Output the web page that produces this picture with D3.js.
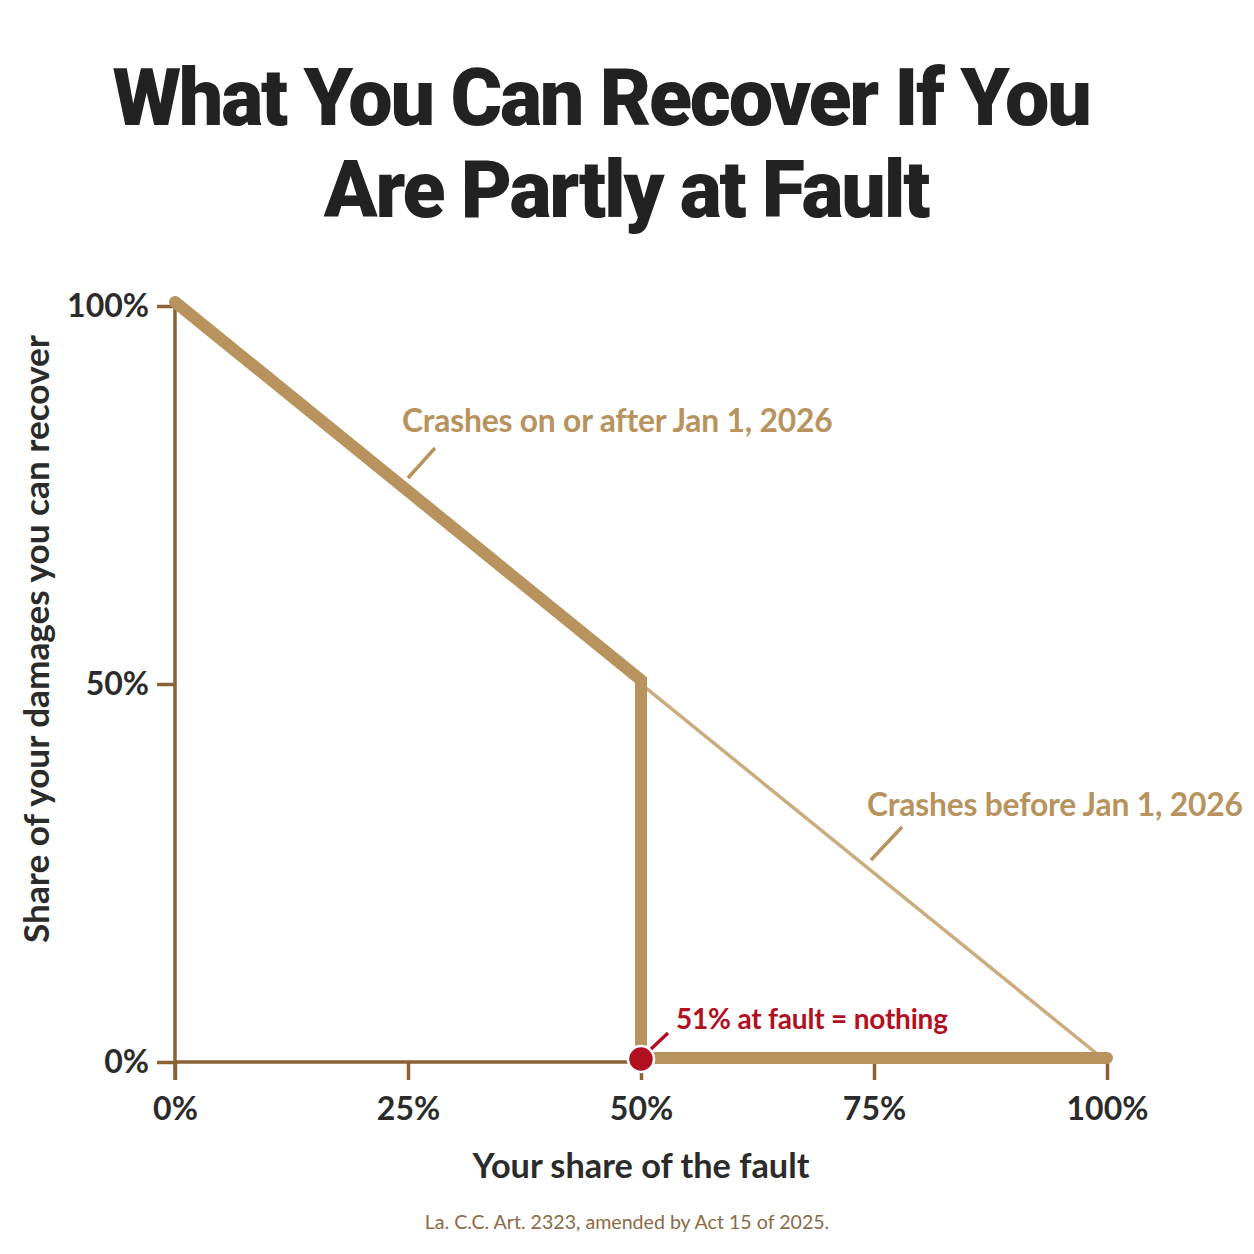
<!DOCTYPE html>
<html>
<head>
<meta charset="utf-8">
<script src="https://cdn.jsdelivr.net/npm/d3@7"></script>
<style>
  html, body { margin: 0; padding: 0; background: #fff; }
  svg { display: block; }
</style>
</head>
<body>
<script>
/*
 * Comparative fault chart: share of damages recoverable
 * versus your own share of the fault, old rule vs new rule.
 */

const WIDTH = 1254;
const HEIGHT = 1254;
const PLOT_LEFT = 175;
const PLOT_RIGHT = 1107;
const PLOT_TOP = 306;
const PLOT_BOT = 1062;

// data
const TITLE_LINES = ['What You Can Recover If You', 'Are Partly at Fault'];
const X_TICKS = [0, 25, 50, 75, 100];
const Y_TICKS = [0, 50, 100];
const NEW_FAULT = [0, 50, 50, 100];
const NEW_RECOVER = [100, 50, 0, 0];
const OLD_FAULT = [0, 100];
const OLD_RECOVER = [100, 0];
const CUTOFF_FAULT = 50;
const CUTOFF_RECOVER = 0;
const NEW_LABEL = 'Crashes on or after Jan 1, 2026';
const OLD_LABEL = 'Crashes before Jan 1, 2026';
const CUTOFF_LABEL = '51% at fault = nothing';
const X_TITLE = 'Your share of the fault';
const Y_TITLE = 'Share of your damages you can recover';
const SOURCE = 'La. C.C. Art. 2323, amended by Act 15 of 2025.';

const AXIS_COLOR = '#8a6236';
const NEW_COLOR = '#b8935e';
const OLD_COLOR = '#cbac7e';
const RED = '#b0101f';
const TEXT_DARK = '#2b2b2b';
const FONT = 'Lato, "Open Sans", sans-serif';

// title line centres (the second line sits a little right)
const TITLE_X = [601, 626];

const svg = d3.select('body')
  .append('svg')
    .attr('width', WIDTH)
    .attr('height', HEIGHT)
    .style('font-family', FONT);

const x = d3.scaleLinear().domain([0, 100]).range([PLOT_LEFT, PLOT_RIGHT]);
const y = d3.scaleLinear().domain([0, 100]).range([PLOT_BOT, PLOT_TOP]);

// title
svg.append('g')
  .selectAll('text')
  .data(TITLE_LINES)
  .enter()
  .append('text')
    .attr('x', (d, i) => TITLE_X[i])
    .attr('y', (d, i) => 125 + i * 92)
    .attr('text-anchor', 'middle')
    .attr('font-family', 'Roboto, Inter, sans-serif')
    .attr('font-weight', 900)
    .attr('font-size', 79)
    .attr('letter-spacing', -2.2)
    .attr('fill', '#222')
    .text(d => d);

// axes
const xAxis = d3.axisBottom(x)
    .tickValues(X_TICKS)
    .tickSize(18)
    .tickSizeOuter(0)
    .tickPadding(17)
    .tickFormat(d => d + '%');

const yAxis = d3.axisLeft(y)
    .tickValues(Y_TICKS)
    .tickSize(18)
    .tickSizeOuter(0)
    .tickPadding(8)
    .tickFormat(d => d + '%');

const gx = svg.append('g')
    .attr('transform', `translate(0, ${PLOT_BOT})`)
    .call(xAxis);

const gy = svg.append('g')
    .attr('transform', `translate(${PLOT_LEFT}, 0)`)
    .call(yAxis);

[gx, gy].forEach(g => {
  g.select('.domain').remove();
  g.selectAll('line')
      .attr('stroke', AXIS_COLOR)
      .attr('stroke-width', 3.5);
  g.selectAll('text')
      .attr('font-family', FONT)
      .attr('font-size', 32)
      .attr('font-weight', 700)
      .attr('fill', TEXT_DARK);
});
gx.selectAll('line').attr('y1', 0);
gx.selectAll('text').attr('dy', '0.72em');

// axis lines
svg.append('line')
    .attr('x1', x(0)).attr('x2', x(0))
    .attr('y1', y(100)).attr('y2', y(0) + 18)
    .attr('stroke', AXIS_COLOR)
    .attr('stroke-width', 3.5);
svg.append('line')
    .attr('x1', x(0)).attr('x2', x(100))
    .attr('y1', y(0)).attr('y2', y(0))
    .attr('stroke', AXIS_COLOR)
    .attr('stroke-width', 3.5);

// lines
const line = d3.line().x(d => x(d[0])).y(d => y(d[1]));

svg.append('path')
    .datum(d3.zip(OLD_FAULT, OLD_RECOVER))
    .attr('d', line)
    .attr('fill', 'none')
    .attr('stroke', OLD_COLOR)
    .attr('stroke-width', 3.5);

svg.append('path')
    .datum(d3.zip(NEW_FAULT, NEW_RECOVER))
    .attr('d', line)
    .attr('transform', 'translate(0, -4)')
    .attr('fill', 'none')
    .attr('stroke', NEW_COLOR)
    .attr('stroke-width', 12)
    .attr('stroke-linejoin', 'miter')
    .attr('stroke-linecap', 'round');

// cutoff dot
svg.append('circle')
    .attr('cx', x(CUTOFF_FAULT))
    .attr('cy', y(CUTOFF_RECOVER) - 3)
    .attr('r', 13)
    .attr('fill', RED)
    .attr('stroke', '#fff')
    .attr('stroke-width', 2.5);

// annotations
const addLabel = (txt, lx, ly, color, size, leader) => {
  svg.append('text')
      .attr('x', lx)
      .attr('y', ly)
      .attr('font-size', size)
      .attr('font-weight', 700)
      .attr('letter-spacing', -0.2)
      .attr('fill', color)
      .text(txt);
  svg.append('line')
      .attr('x1', leader[0]).attr('y1', leader[1])
      .attr('x2', leader[2]).attr('y2', leader[3])
      .attr('stroke', color)
      .attr('stroke-width', 3.5);
};

addLabel(NEW_LABEL, 402, 432, NEW_COLOR, 31.8, [408, 478, 435, 448]);
addLabel(OLD_LABEL, 867, 816, NEW_COLOR, 31.8, [871, 860, 902, 827]);
addLabel(CUTOFF_LABEL, 676, 1029, RED, 28, [651, 1049, 668, 1033]);

// axis titles
svg.append('text')
    .attr('x', 641)
    .attr('y', 1178)
    .attr('text-anchor', 'middle')
    .attr('font-size', 34.3)
    .attr('font-weight', 700)
    .attr('fill', TEXT_DARK)
    .text(X_TITLE);

svg.append('text')
    .attr('transform', 'translate(49, 639) rotate(-90)')
    .attr('text-anchor', 'middle')
    .attr('font-size', 35.2)
    .attr('font-weight', 700)
    .attr('fill', TEXT_DARK)
    .text(Y_TITLE);

// source note
svg.append('text')
    .attr('x', 627)
    .attr('y', 1229)
    .attr('text-anchor', 'middle')
    .attr('font-size', 19.6)
    .attr('fill', '#8b6a45')
    .text(SOURCE);
</script>
</body>
</html>
